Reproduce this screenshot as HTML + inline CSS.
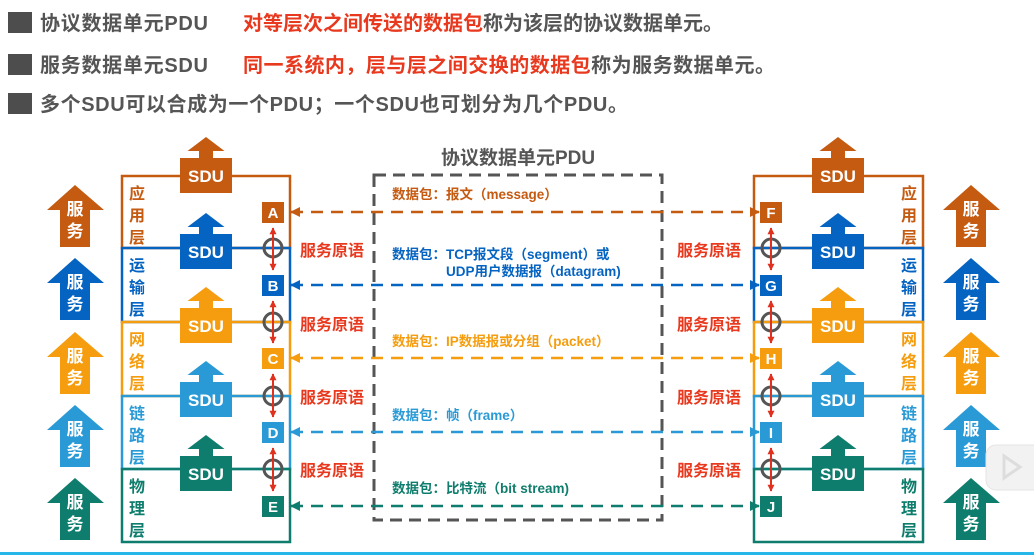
<!DOCTYPE html>
<html><head><meta charset="utf-8"><style>
html,body{margin:0;padding:0;background:#fff;}
svg{display:block;font-family:"Liberation Sans","Noto Sans CJK SC",sans-serif;font-weight:bold;}
</style></head><body>
<svg width="1034" height="557" viewBox="0 0 1034 557" xmlns="http://www.w3.org/2000/svg">
<defs>
<marker id="ra" viewBox="0 0 10 10" refX="9" refY="5" markerWidth="3.5" markerHeight="3.5" orient="auto-start-reverse"><path d="M0,0L10,5L0,10z" fill="#e0301e"/></marker>
<marker id="m0" viewBox="0 0 10 10" refX="9" refY="5" markerWidth="4" markerHeight="4" orient="auto-start-reverse"><path d="M0,0L10,5L0,10z" fill="#c55a11"/></marker>
<marker id="m1" viewBox="0 0 10 10" refX="9" refY="5" markerWidth="4" markerHeight="4" orient="auto-start-reverse"><path d="M0,0L10,5L0,10z" fill="#0563c1"/></marker>
<marker id="m2" viewBox="0 0 10 10" refX="9" refY="5" markerWidth="4" markerHeight="4" orient="auto-start-reverse"><path d="M0,0L10,5L0,10z" fill="#f59d0e"/></marker>
<marker id="m3" viewBox="0 0 10 10" refX="9" refY="5" markerWidth="4" markerHeight="4" orient="auto-start-reverse"><path d="M0,0L10,5L0,10z" fill="#2a9ad6"/></marker>
<marker id="m4" viewBox="0 0 10 10" refX="9" refY="5" markerWidth="4" markerHeight="4" orient="auto-start-reverse"><path d="M0,0L10,5L0,10z" fill="#0f7d6d"/></marker>
</defs>

<rect x="8" y="12" width="24" height="21" fill="#4d4d4d"/>
<rect x="8" y="54" width="24" height="21" fill="#4d4d4d"/>
<rect x="8" y="93" width="24" height="21" fill="#4d4d4d"/>
<g font-size="20">
<text x="40" y="30" fill="#555" textLength="168">协议数据单元PDU</text>
<text x="243" y="30" fill="#e8381e">对等层次之间传送的数据包<tspan fill="#555">称为该层的协议数据单元。</tspan></text>
<text x="40" y="72" fill="#555" textLength="168">服务数据单元SDU</text>
<text x="243" y="72" fill="#e8381e" textLength="532">同一系统内，层与层之间交换的数据包<tspan fill="#555">称为服务数据单元。</tspan></text>
<text x="40" y="111" fill="#555" textLength="588">多个SDU可以合成为一个PDU；一个SDU也可划分为几个PDU。</text>
</g>

<text x="518" y="164" font-size="19" fill="#555" text-anchor="middle">协议数据单元PDU</text>
<rect x="374" y="175" width="288" height="345" fill="none" stroke="#555" stroke-width="3" stroke-dasharray="12 7"/>

<g fill="none" stroke-width="2.5">
<rect x="122" y="176" width="168" height="72" stroke="#c55a11"/>
<rect x="122" y="248" width="168" height="74" stroke="#0563c1"/>
<rect x="122" y="322" width="168" height="74" stroke="#f59d0e"/>
<rect x="122" y="396" width="168" height="73" stroke="#2a9ad6"/>
<rect x="122" y="469" width="168" height="73" stroke="#0f7d6d"/>
<rect x="754" y="176" width="169" height="72" stroke="#c55a11"/>
<rect x="754" y="248" width="169" height="74" stroke="#0563c1"/>
<rect x="754" y="322" width="169" height="74" stroke="#f59d0e"/>
<rect x="754" y="396" width="169" height="73" stroke="#2a9ad6"/>
<rect x="754" y="469" width="169" height="73" stroke="#0f7d6d"/>
</g>

<g stroke-width="2.5" stroke-dasharray="12 8" fill="none">
<line x1="291" y1="212" x2="759" y2="212" stroke="#c55a11" marker-start="url(#m0)" marker-end="url(#m0)"/>
<line x1="291" y1="285" x2="759" y2="285" stroke="#0563c1" marker-start="url(#m1)" marker-end="url(#m1)"/>
<line x1="291" y1="358" x2="759" y2="358" stroke="#f59d0e" marker-start="url(#m2)" marker-end="url(#m2)"/>
<line x1="291" y1="432" x2="759" y2="432" stroke="#2a9ad6" marker-start="url(#m3)" marker-end="url(#m3)"/>
<line x1="291" y1="506" x2="759" y2="506" stroke="#0f7d6d" marker-start="url(#m4)" marker-end="url(#m4)"/>
</g>
<g font-size="13.5">
<text x="392" y="199" fill="#c55a11">数据包：报文（message）</text>
<text x="392" y="259" fill="#0563c1">数据包：TCP报文段（segment）或</text>
<text x="446" y="276" fill="#0563c1">UDP用户数据报（datagram)</text>
<text x="392" y="346" fill="#f59d0e">数据包：IP数据报或分组（packet）</text>
<text x="392" y="420" fill="#2a9ad6">数据包：帧（frame）</text>
<text x="392" y="493" fill="#0f7d6d">数据包：比特流（bit stream)</text>
</g>

<g id="sdu">
<g fill="#c55a11"><path d="M206,137 L224.5,151 L213,151 L213,158 L199,158 L199,151 L187.5,151 Z"/><rect x="180" y="158" width="52" height="35"/></g>
<g fill="#0563c1"><path d="M206,213 L224.5,227 L213,227 L213,234 L199,234 L199,227 L187.5,227 Z"/><rect x="180" y="234" width="52" height="35"/></g>
<g fill="#f59d0e"><path d="M206,287 L224.5,301 L213,301 L213,308 L199,308 L199,301 L187.5,301 Z"/><rect x="180" y="308" width="52" height="35"/></g>
<g fill="#2a9ad6"><path d="M206,361 L224.5,375 L213,375 L213,382 L199,382 L199,375 L187.5,375 Z"/><rect x="180" y="382" width="52" height="35"/></g>
<g fill="#0f7d6d"><path d="M206,435 L224.5,449 L213,449 L213,456 L199,456 L199,449 L187.5,449 Z"/><rect x="180" y="456" width="52" height="35"/></g>
<g fill="#fff" font-size="17" text-anchor="middle">
<text x="206" y="182">SDU</text><text x="206" y="258">SDU</text><text x="206" y="332">SDU</text><text x="206" y="406">SDU</text><text x="206" y="480">SDU</text>
</g>
</g>
<use href="#sdu" transform="translate(632,0)"/>

<g id="svc">
<g><path d="M75,185 L104,210 L90,210 L90,247 L60,247 L60,210 L47,210 Z" fill="#c55a11"/>
<path d="M75,258 L104,283 L90,283 L90,320 L60,320 L60,283 L47,283 Z" fill="#0563c1"/>
<path d="M75,332 L104,357 L90,357 L90,394 L60,394 L60,357 L47,357 Z" fill="#f59d0e"/>
<path d="M75,405 L104,430 L90,430 L90,467 L60,467 L60,430 L47,430 Z" fill="#2a9ad6"/>
<path d="M75,478 L104,503 L90,503 L90,540 L60,540 L60,503 L47,503 Z" fill="#0f7d6d"/></g>
<g fill="#fff" font-size="17" text-anchor="middle">
<text x="75" y="215">服</text><text x="75" y="237">务</text>
<text x="75" y="288">服</text><text x="75" y="310">务</text>
<text x="75" y="362">服</text><text x="75" y="384">务</text>
<text x="75" y="435">服</text><text x="75" y="457">务</text>
<text x="75" y="508">服</text><text x="75" y="530">务</text>
</g>
</g>
<use href="#svc" transform="translate(896,0)"/>

<g font-size="16" text-anchor="middle">
<g fill="#c55a11"><text x="137" y="199">应</text><text x="137" y="221">用</text><text x="137" y="243">层</text>
<text x="909" y="199">应</text><text x="909" y="221">用</text><text x="909" y="243">层</text></g>
<g fill="#0563c1"><text x="137" y="271">运</text><text x="137" y="293">输</text><text x="137" y="315">层</text>
<text x="909" y="271">运</text><text x="909" y="293">输</text><text x="909" y="315">层</text></g>
<g fill="#f59d0e"><text x="137" y="345">网</text><text x="137" y="367">络</text><text x="137" y="389">层</text>
<text x="909" y="345">网</text><text x="909" y="367">络</text><text x="909" y="389">层</text></g>
<g fill="#2a9ad6"><text x="137" y="419">链</text><text x="137" y="441">路</text><text x="137" y="463">层</text>
<text x="909" y="419">链</text><text x="909" y="441">路</text><text x="909" y="463">层</text></g>
<g fill="#0f7d6d"><text x="137" y="492">物</text><text x="137" y="514">理</text><text x="137" y="536">层</text>
<text x="909" y="492">物</text><text x="909" y="514">理</text><text x="909" y="536">层</text></g>
</g>

<g id="prim">
<rect x="262" y="202" width="22" height="21" fill="#c55a11"/>
<rect x="262" y="275" width="22" height="21" fill="#0563c1"/>
<rect x="262" y="348" width="22" height="21" fill="#f59d0e"/>
<rect x="262" y="422" width="22" height="21" fill="#2a9ad6"/>
<rect x="262" y="496" width="22" height="21" fill="#0f7d6d"/>
<g fill="none" stroke="#555" stroke-width="3">
<circle cx="273" cy="248" r="9"/><circle cx="273" cy="322" r="9"/><circle cx="273" cy="396" r="9"/><circle cx="273" cy="469" r="9"/>
</g>
<g stroke="#e0301e" stroke-width="2" marker-start="url(#ra)" marker-end="url(#ra)">
<line x1="273" y1="228" x2="273" y2="270"/>
<line x1="273" y1="301" x2="273" y2="343"/>
<line x1="273" y1="374" x2="273" y2="417"/>
<line x1="273" y1="448" x2="273" y2="491"/>
</g>
</g>
<use href="#prim" transform="translate(498,0)"/>
<g fill="#fff" font-size="15" text-anchor="middle">
<text x="273" y="218">A</text><text x="273" y="291">B</text><text x="273" y="364">C</text><text x="273" y="438">D</text><text x="273" y="512">E</text>
<text x="771" y="218">F</text><text x="771" y="291">G</text><text x="771" y="364">H</text><text x="771" y="438">I</text><text x="771" y="512">J</text>
</g>
<g fill="#e8381e" font-size="16">
<text x="300" y="256">服务原语</text><text x="300" y="330">服务原语</text><text x="300" y="403">服务原语</text><text x="300" y="476">服务原语</text>
<text x="677" y="256">服务原语</text><text x="677" y="330">服务原语</text><text x="677" y="403">服务原语</text><text x="677" y="476">服务原语</text>
</g>

<rect x="986" y="445" width="60" height="45" rx="10" fill="#f2f2f2" stroke="#e4e4e4"/>
<path d="M1004,456 L1020,467 L1004,478 Z" fill="none" stroke="#ddd" stroke-width="3"/>

<rect x="0" y="552" width="1034" height="3" fill="#27b6e8"/>
</svg>
</body></html>
